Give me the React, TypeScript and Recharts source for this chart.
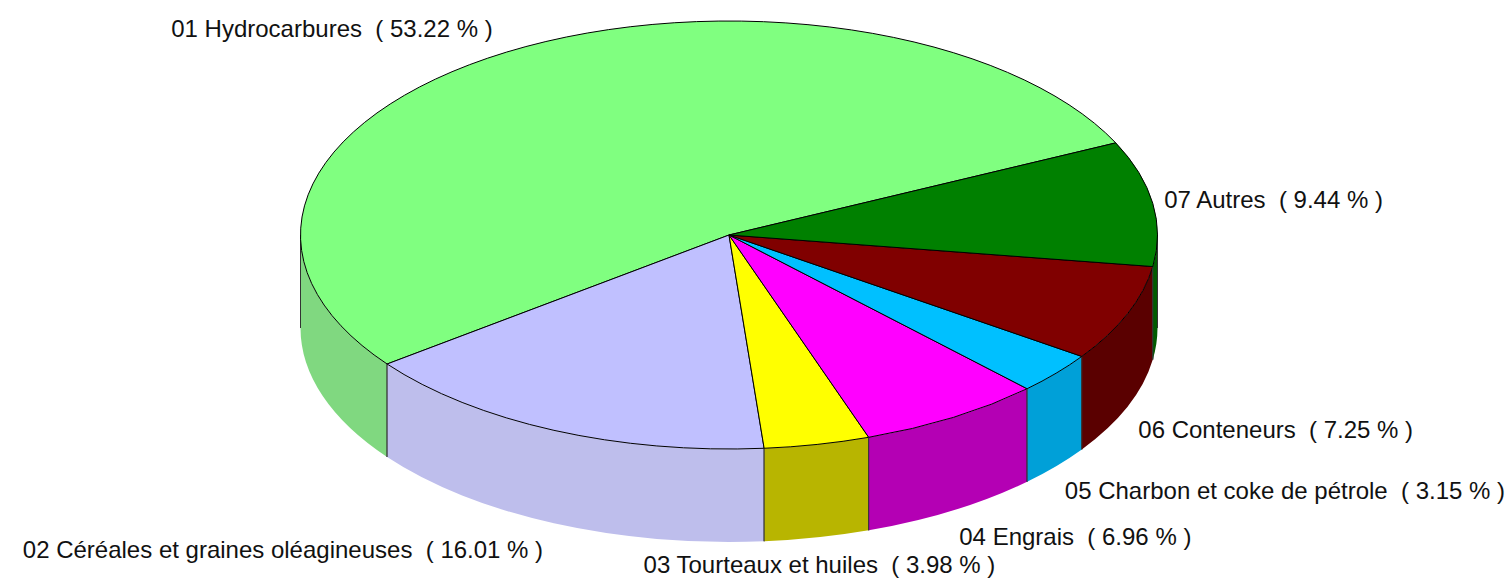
import React from 'react';
import { PieChart, Pie } from 'recharts';

const categories = [
  '01 Hydrocarbures',
  '02 Céréales et graines oléagineuses',
  '03 Tourteaux et huiles',
  '04 Engrais',
  '05 Charbon et coke de pétrole',
  '06 Conteneurs',
  '07 Autres',
];
const shares = [53.22, 16.01, 3.98, 6.96, 3.15, 7.25, 9.44];
const topColors = ['#80FF80', '#C0C0FF', '#FFFF00', '#FF00FF', '#00C0FF', '#800000', '#008000'];
const sideColors = ['#80D880', '#BEBEEC', '#B8B500', '#B400B4', '#00A0D8', '#5A0000', '#005C00'];

const data = categories.map((name, i) => ({ name, value: shares[i] }));

const W = 1507;
const H = 581;
const CX = 729;
const CY = 235;
const RADIUS = 428.5;
const TILT = 214 / 428.5;
const DEPTH = 93;
const START = 25.5;
const LABEL_RX_RIGHT = 440;
const LABEL_RX_LEFT = 455;
const LABEL_RY_UP = 242;
const LABEL_RY_DOWN = 221;
const LABEL_DROP = 113;
const FONT = '"Liberation Sans", Arial, sans-serif';

function Slice3D(props: any) {
  const { cx, cy, outerRadius, startAngle, endAngle, index } = props;
  const ry = outerRadius * TILT;
  const pt = (a: number, dy = 0): [number, number] => {
    const r = (a * Math.PI) / 180;
    return [cx + outerRadius * Math.cos(r), cy - ry * Math.sin(r) + dy];
  };
  const a0 = Math.min(startAngle, endAngle);
  const a1 = Math.max(startAngle, endAngle);
  const p0 = pt(a0);
  const p1 = pt(a1);
  const large = a1 - a0 > 180 ? 1 : 0;
  const top = `M${cx},${cy} L${p0[0]},${p0[1]} A${outerRadius},${ry} 0 ${large} 0 ${p1[0]},${p1[1]} Z`;

  const walls: React.ReactNode[] = [];
  const edges: React.ReactNode[] = [];
  for (let k = -1; k <= 2; k++) {
    const lo = Math.max(a0, 180 + 360 * k);
    const hi = Math.min(a1, 360 + 360 * k);
    if (hi > lo) {
      const b0 = pt(lo);
      const b1 = pt(hi);
      const c0 = pt(lo, DEPTH);
      const c1 = pt(hi, DEPTH);
      const d = `M${b0[0]},${b0[1]} A${outerRadius},${ry} 0 0 0 ${b1[0]},${b1[1]} L${c1[0]},${c1[1]} A${outerRadius},${ry} 0 0 1 ${c0[0]},${c0[1]} Z`;
      walls.push(<path key={`w${k}`} d={d} fill={sideColors[index]} stroke="none" />);
      edges.push(
        <line key={`e0${k}`} x1={b0[0]} y1={b0[1]} x2={c0[0]} y2={c0[1]} stroke="#333" strokeWidth={1} />,
        <line key={`e1${k}`} x1={b1[0]} y1={b1[1]} x2={c1[0]} y2={c1[1]} stroke="#333" strokeWidth={1} />
      );
    }
  }

  const mid = (((a0 + a1) / 2) * Math.PI) / 180;
  const cos = Math.cos(mid);
  const sin = Math.sin(mid);
  const lx = cx + (cos >= 0 ? LABEL_RX_RIGHT : LABEL_RX_LEFT) * cos;
  const ly = sin >= 0 ? cy - LABEL_RY_UP * sin : cy + LABEL_DROP + LABEL_RY_DOWN * -sin;
  const anchor = Math.abs(cos) < 0.3 ? 'middle' : cos > 0 ? 'start' : 'end';
  const text = `${categories[index]}  ( ${shares[index].toFixed(2)} % )`;

  return (
    <g>
      {walls}
      {edges}
      <path d={top} fill={topColors[index]} stroke="#000" strokeWidth={1} strokeLinejoin="round" />
      <text
        x={lx}
        y={ly}
        textAnchor={anchor}
        dominantBaseline="central"
        fontFamily={FONT}
        fontSize={24}
        fill="#111"
        style={{ whiteSpace: 'pre' }}
        xmlSpace="preserve"
      >
        {text}
      </text>
    </g>
  );
}

export default function App() {
  return (
    <div style={{ position: 'absolute', left: 0, top: 0, width: W, height: H, background: '#fff' }}>
      <PieChart width={W} height={H} margin={{ top: 0, right: 0, bottom: 0, left: 0 }}>
        <Pie
          data={data}
          dataKey="value"
          nameKey="name"
          cx={CX}
          cy={CY}
          outerRadius={RADIUS}
          innerRadius={0}
          startAngle={START}
          endAngle={START + 360}
          fill="none"
          stroke="none"
          label={Slice3D}
          labelLine={false}
          isAnimationActive={false}
        />
      </PieChart>
    </div>
  );
}
